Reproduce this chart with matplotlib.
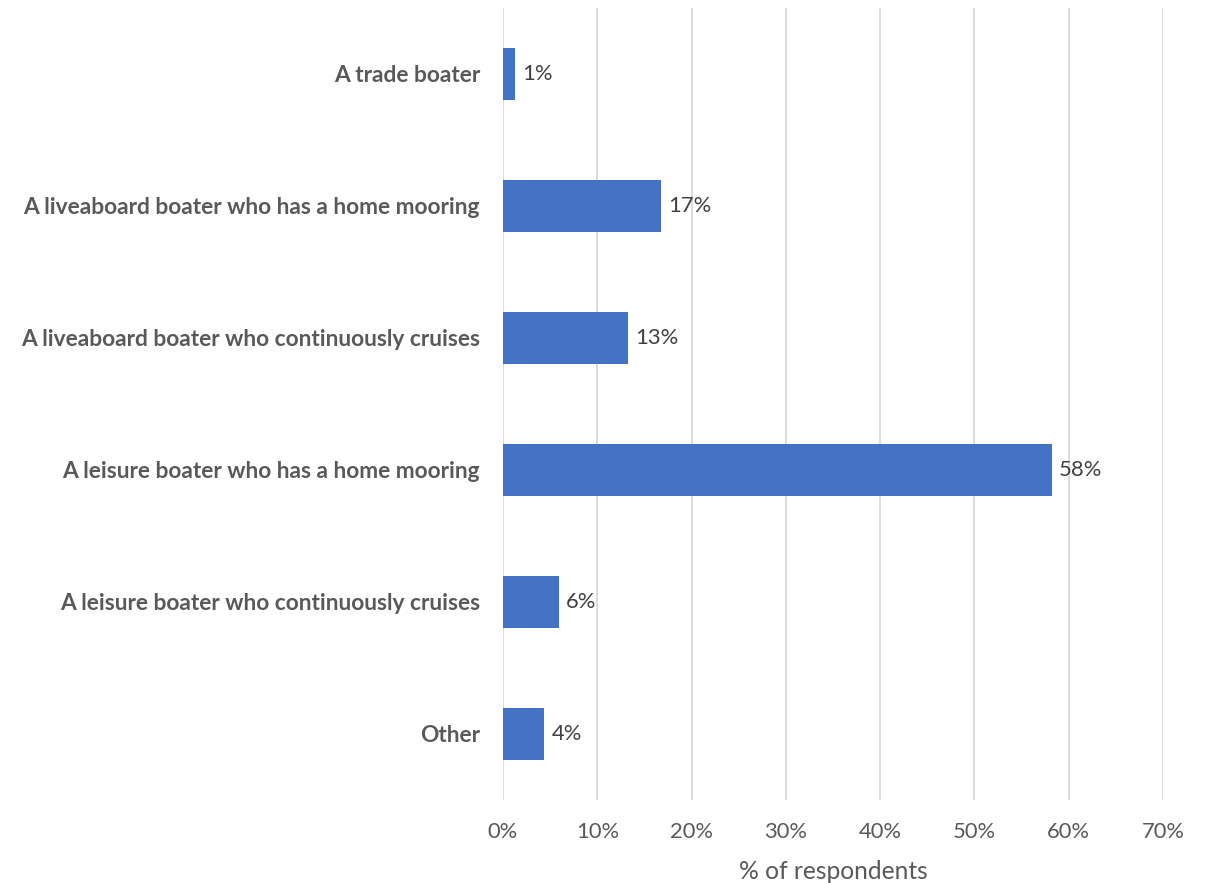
import matplotlib
matplotlib.use('Agg')
import matplotlib.pyplot as plt

categories = ['A trade boater',
              'A liveaboard boater who has a home mooring',
              'A liveaboard boater who continuously cruises',
              'A leisure boater who has a home mooring',
              'A leisure boater who continuously cruises',
              'Other']
values = [1.3, 16.8, 13.3, 58.2, 5.9, 4.4]
xticks = [0, 10, 20, 30, 40, 50, 60, 70]

plt.rcParams['font.family'] = ['Lato', 'DejaVu Sans']

fig = plt.figure(figsize=(12.1, 8.83), dpi=100)
ax = fig.add_axes([503/1210, 1 - 800/883, 660/1210, 792/883])

y = list(range(len(categories)))
ax.barh(y, values, height=0.4, color='#4472C4', zorder=3)
for yi, v in zip(y, values):
    ax.text(v + 0.75, yi, '%.0f%%' % v, va='center', ha='left',
            fontsize=15.8, color='#404040')

ax.set_xlim(0, 70)
ax.set_ylim(len(categories) - 0.5, -0.5)
ax.set_xticks(xticks)
ax.set_xticklabels(['%d%%' % t for t in xticks], fontsize=15.8, color='#595959')
ax.set_yticks(y)
ax.set_yticklabels(categories, fontsize=16.4, fontweight='bold', color='#595959')
ax.tick_params(axis='both', length=0)
ax.tick_params(axis='x', pad=15.5)
ax.tick_params(axis='y', pad=16.5)
ax.grid(axis='x', color='#D9D9D9', linewidth=1.3, zorder=0)
for s in ax.spines.values():
    s.set_visible(False)
ax.set_xlabel('% of respondents', fontsize=17.7, color='#595959', labelpad=13)

fig.savefig('out.png', dpi=100)
